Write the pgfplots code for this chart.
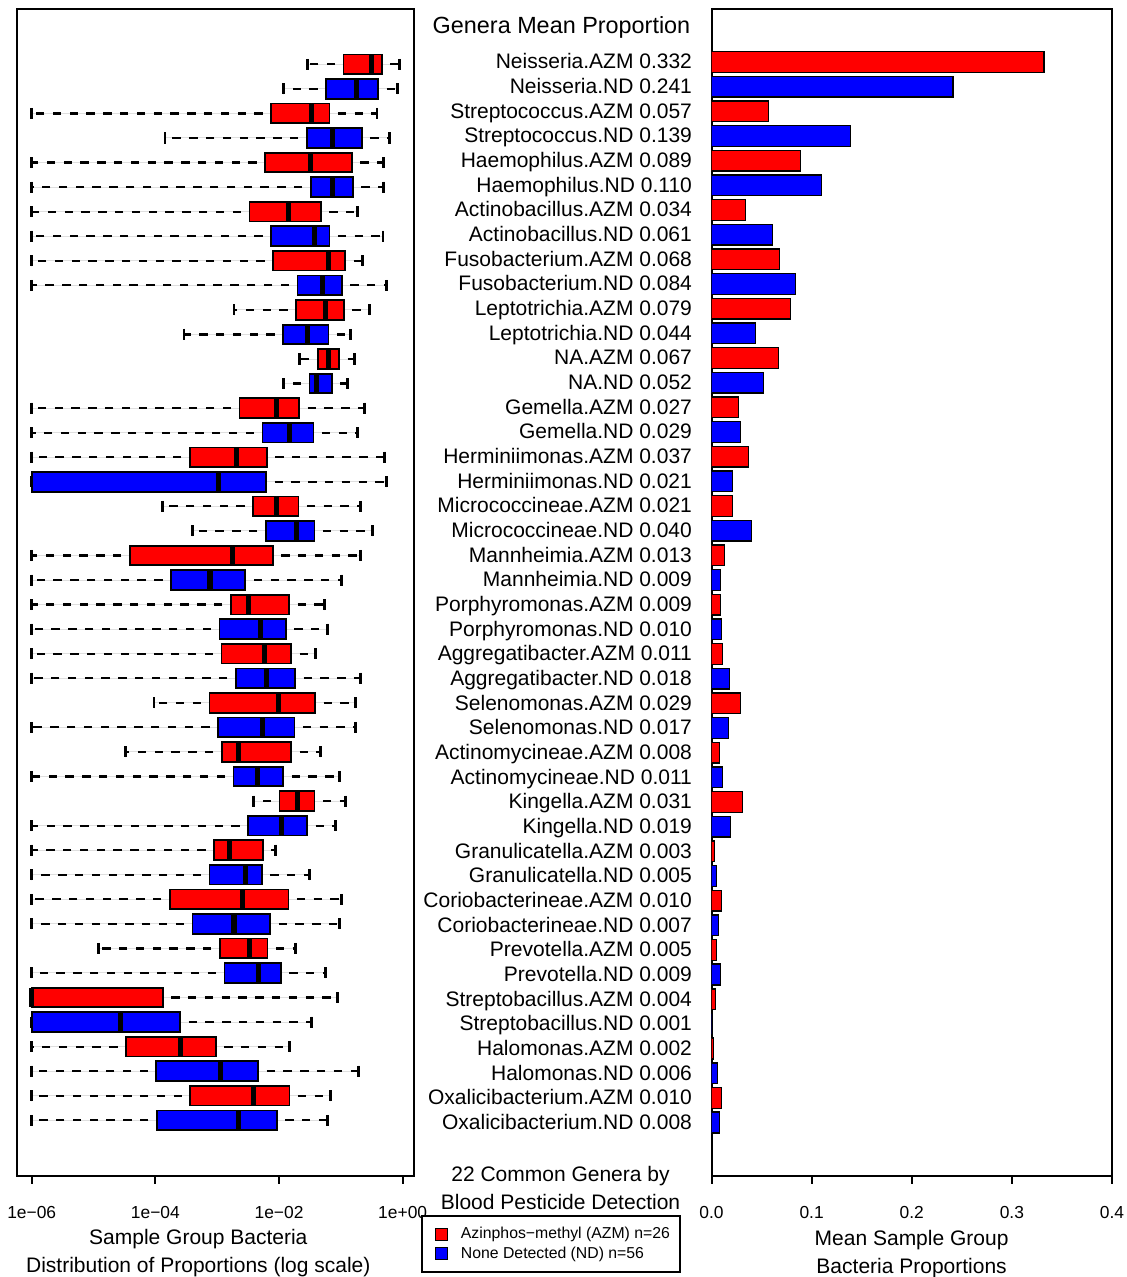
\documentclass[border=0pt]{standalone}
\usepackage{pgfplots}
\pgfplotsset{compat=1.18}
\usepgfplotslibrary{statistics}
\usepackage{fontspec}
\setmainfont{Liberation Sans}
\definecolor{rred}{RGB}{255,0,0}
\definecolor{rblue}{RGB}{0,0,255}
\newcommand\labf{\fontsize{10.5}{12}\selectfont}
\newcommand\tickf{\fontsize{8.7}{10}\selectfont}
\newcommand\ttlf{\fontsize{11.7}{13}\selectfont}
\newcommand\legf{\fontsize{7.9}{9.5}\selectfont}
\newcommand\bx[7]{\addplot[boxplot prepared={draw position=#1, lower whisker=#2, lower quartile=#3, median=#4, upper quartile=#5, upper whisker=#6}, fill=#7, draw=black, line width=0.9pt] coordinates {};}
\begin{document}
\begin{tikzpicture}
\useasboundingbox (0pt,0pt) rectangle (563.5pt,-638.5pt);
\begin{axis}[
  at={(8.35pt,-587.75pt)}, anchor=south west,
  scale only axis, width=198.8pt, height=583.5pt,
  xmin=-6.243, xmax=0.188, ymin=-1.272, ymax=46.248, y dir=reverse,
  axis line style={line width=1pt},
  xtick={-6,-4,-2,0}, xticklabels={1e−06,1e−04,1e−02,1e+00},
  ytick=\empty, xtick pos=left, tick align=outside, major tick length=4pt,
  tick style={line width=1pt, black},
  xticklabel style={font=\tickf, anchor=base, inner sep=0pt, yshift=-17.25pt},
  boxplot/box extend=0.8, boxplot/whisker extend=0.45,
  boxplot/every median/.style={line width=2.6pt, draw=black},
  boxplot/draw/lower whisker/.code={
    \draw[black, solid, line width=1.1pt, dash pattern=on 4.2pt off 4.2pt, dash phase=4.2pt]
      (boxplot cs:\pgfplotsboxplotvalue{lower quartile}) -- (boxplot cs:\pgfplotsboxplotvalue{lower whisker});
    \draw[black, solid, line width=1.4pt]
      (boxplot whisker cs:\pgfplotsboxplotvalue{lower whisker},0) -- (boxplot whisker cs:\pgfplotsboxplotvalue{lower whisker},1);
  },
  boxplot/draw/upper whisker/.code={
    \draw[black, solid, line width=1.1pt, dash pattern=on 4.2pt off 4.2pt, dash phase=4.2pt]
      (boxplot cs:\pgfplotsboxplotvalue{upper quartile}) -- (boxplot cs:\pgfplotsboxplotvalue{upper whisker});
    \draw[black, solid, line width=1.4pt]
      (boxplot whisker cs:\pgfplotsboxplotvalue{upper whisker},0) -- (boxplot whisker cs:\pgfplotsboxplotvalue{upper whisker},1);
  },
]
\bx{1}{-1.534}{-0.958}{-0.50}{-0.337}{-0.052}{rred}
\bx{2}{-1.929}{-1.238}{-0.741}{-0.396}{-0.084}{rblue}
\bx{3}{-6}{-2.128}{-1.481}{-1.184}{-0.417}{rred}
\bx{4}{-3.843}{-1.55}{-1.136}{-0.66}{-0.218}{rblue}
\bx{5}{-6}{-2.225}{-1.485}{-0.822}{-0.311}{rred}
\bx{6}{-6}{-1.485}{-1.129}{-0.806}{-0.311}{rblue}
\bx{7}{-6}{-2.479}{-1.848}{-1.324}{-0.725}{rred}
\bx{8}{-6}{-2.128}{-1.427}{-1.184}{-0.32}{rblue}
\bx{9}{-6}{-2.095}{-1.201}{-0.93}{-0.65}{rred}
\bx{10}{-6}{-1.702}{-1.303}{-0.984}{-0.256}{rblue}
\bx{11}{-2.727}{-1.723}{-1.249}{-0.951}{-0.537}{rred}
\bx{12}{-3.536}{-1.934}{-1.534}{-1.201}{-0.849}{rblue}
\bx{13}{-1.67}{-1.372}{-1.201}{-1.028}{-0.785}{rred}
\bx{14}{-1.929}{-1.508}{-1.4}{-1.146}{-0.893}{rblue}
\bx{15}{-6}{-2.641}{-2.036}{-1.675}{-0.623}{rred}
\bx{16}{-6}{-2.269}{-1.837}{-1.443}{-0.725}{rblue}
\bx{17}{-6}{-3.443}{-2.694}{-2.197}{-0.299}{rred}
\bx{18}{-6}{-6}{-2.974}{-2.209}{-0.267}{rblue}
\bx{19}{-3.88}{-2.419}{-2.036}{-1.686}{-0.676}{rred}
\bx{20}{-3.395}{-2.214}{-1.712}{-1.427}{-0.482}{rblue}
\bx{21}{-6}{-4.414}{-2.759}{-2.1}{-0.688}{rred}
\bx{22}{-6}{-3.746}{-3.115}{-2.544}{-0.984}{rblue}
\bx{23}{-6}{-2.78}{-2.495}{-1.837}{-1.27}{rred}
\bx{24}{-6}{-2.964}{-2.306}{-1.89}{-1.21}{rblue}
\bx{25}{-6}{-2.932}{-2.236}{-1.804}{-1.405}{rred}
\bx{26}{-6}{-2.699}{-2.209}{-1.739}{-0.676}{rblue}
\bx{27}{-4.021}{-3.126}{-2.003}{-1.416}{-0.764}{rred}
\bx{28}{-6}{-2.985}{-2.269}{-1.751}{-0.757}{rblue}
\bx{29}{-4.485}{-2.926}{-2.65}{-1.804}{-1.335}{rred}
\bx{30}{-6}{-2.738}{-2.35}{-1.934}{-1.028}{rblue}
\bx{31}{-2.414}{-1.994}{-1.702}{-1.427}{-0.919}{rred}
\bx{32}{-6}{-2.5}{-1.955}{-1.545}{-1.081}{rblue}
\bx{33}{-6}{-3.05}{-2.807}{-2.262}{-2.063}{rred}
\bx{34}{-6}{-3.126}{-2.537}{-2.278}{-1.513}{rblue}
\bx{35}{-6}{-3.767}{-2.597}{-1.848}{-0.984}{rred}
\bx{36}{-6}{-3.401}{-2.727}{-2.144}{-1.023}{rblue}
\bx{37}{-4.922}{-2.958}{-2.484}{-2.188}{-1.739}{rred}
\bx{38}{-6}{-2.883}{-2.327}{-1.971}{-1.254}{rblue}
\bx{39}{-6}{-6}{-6}{-3.88}{-1.049}{rred}
\bx{40}{-6}{-6}{-4.56}{-3.6}{-1.469}{rblue}
\bx{41}{-6}{-4.474}{-3.589}{-3.023}{-1.837}{rred}
\bx{42}{-6}{-3.984}{-2.942}{-2.338}{-0.715}{rblue}
\bx{43}{-6}{-3.434}{-2.414}{-1.832}{-1.162}{rred}
\bx{44}{-6}{-3.977}{-2.65}{-2.036}{-1.217}{rblue}
\end{axis}

\begin{axis}[
  at={(355.75pt,-587.75pt)}, anchor=south west,
  scale only axis, width=200.25pt, height=583.5pt,
  xmin=0, xmax=0.4, ymin=-1.169, ymax=46.149, y dir=reverse,
  axis line style={line width=1pt},
  xtick={0,0.1,0.2,0.3,0.4}, xticklabels={0.0,0.1,0.2,0.3,0.4},
  xtick pos=left, tick align=outside, major tick length=4pt,
  tick style={line width=1pt, black},
  xticklabel style={font=\tickf, anchor=base, inner sep=0pt, yshift=-17.25pt},
  typeset ticklabels with strut,
  ytick={1,...,44},
  yticklabels={Neisseria.AZM 0.332, Neisseria.ND 0.241, Streptococcus.AZM 0.057, Streptococcus.ND 0.139, Haemophilus.AZM 0.089, Haemophilus.ND 0.110, Actinobacillus.AZM 0.034, Actinobacillus.ND 0.061, Fusobacterium.AZM 0.068, Fusobacterium.ND 0.084, Leptotrichia.AZM 0.079, Leptotrichia.ND 0.044, NA.AZM 0.067, NA.ND 0.052, Gemella.AZM 0.027, Gemella.ND 0.029, Herminiimonas.AZM 0.037, Herminiimonas.ND 0.021, Micrococcineae.AZM 0.021, Micrococcineae.ND 0.040, Mannheimia.AZM 0.013, Mannheimia.ND 0.009, Porphyromonas.AZM 0.009, Porphyromonas.ND 0.010, Aggregatibacter.AZM 0.011, Aggregatibacter.ND 0.018, Selenomonas.AZM 0.029, Selenomonas.ND 0.017, Actinomycineae.AZM 0.008, Actinomycineae.ND 0.011, Kingella.AZM 0.031, Kingella.ND 0.019, Granulicatella.AZM 0.003, Granulicatella.ND 0.005, Coriobacterineae.AZM 0.010, Coriobacterineae.ND 0.007, Prevotella.AZM 0.005, Prevotella.ND 0.009, Streptobacillus.AZM 0.004, Streptobacillus.ND 0.001, Halomonas.AZM 0.002, Halomonas.ND 0.006, Oxalicibacterium.AZM 0.010, Oxalicibacterium.ND 0.008},
  ytick style={draw=none},
  yticklabel style={font=\labf, anchor=east, inner sep=0pt, xshift=-5.6pt, yshift=-1pt},
  legend style={at={(-0.726,-0.0338)}, anchor=north west, draw=black, line width=1pt, font=\legf, inner xsep=3pt, inner ysep=4.2pt, nodes={inner xsep=2pt, inner ysep=1.3pt}, column sep=4.3pt, row sep=0pt},
  legend cell align=left,
  legend image code/.code={\path (0pt,0pt); \draw[#1, line width=0.6pt] (3.5pt,-3pt) rectangle (9.5pt,3pt);},
]
\addlegendimage{fill=rred, draw=black}
\addlegendentry{Azinphos−methyl (AZM) n=26}
\addlegendimage{fill=rblue, draw=black}
\addlegendentry{None Detected (ND) n=56}
\addplot[xbar, bar shift=0pt, bar width=0.84, fill=rred, draw=black, line width=0.7pt] coordinates {
(0.332,1) (0.057,3) (0.089,5) (0.034,7) (0.068,9) (0.079,11) (0.067,13) (0.027,15) (0.037,17) (0.021,19) (0.013,21) (0.009,23) (0.011,25) (0.029,27) (0.008,29) (0.031,31) (0.003,33) (0.010,35) (0.005,37) (0.004,39) (0.002,41) (0.010,43)};
\addplot[xbar, bar shift=0pt, bar width=0.84, fill=rblue, draw=black, line width=0.7pt] coordinates {
(0.241,2) (0.139,4) (0.110,6) (0.061,8) (0.084,10) (0.044,12) (0.052,14) (0.029,16) (0.021,18) (0.040,20) (0.009,22) (0.010,24) (0.018,26) (0.017,28) (0.011,30) (0.019,32) (0.005,34) (0.007,36) (0.009,38) (0.001,40) (0.006,42) (0.008,44)};
\end{axis}

\node[font=\ttlf, anchor=base] at (280.75pt,-17pt) {Genera Mean Proportion};
\node[font=\labf, anchor=base] at (280.25pt,-590.85pt) {22 Common Genera by};
\node[font=\labf, anchor=base] at (280.25pt,-604.65pt) {Blood Pesticide Detection};
\node[font=\labf, anchor=base] at (99.15pt,-622pt) {Sample Group Bacteria};
\node[font=\labf, anchor=base] at (99.15pt,-636pt) {Distribution of Proportions (log scale)};
\node[font=\labf, anchor=base] at (455.8pt,-622.5pt) {Mean Sample Group};
\node[font=\labf, anchor=base] at (455.8pt,-636.5pt) {Bacteria Proportions};
\end{tikzpicture}
\end{document}
